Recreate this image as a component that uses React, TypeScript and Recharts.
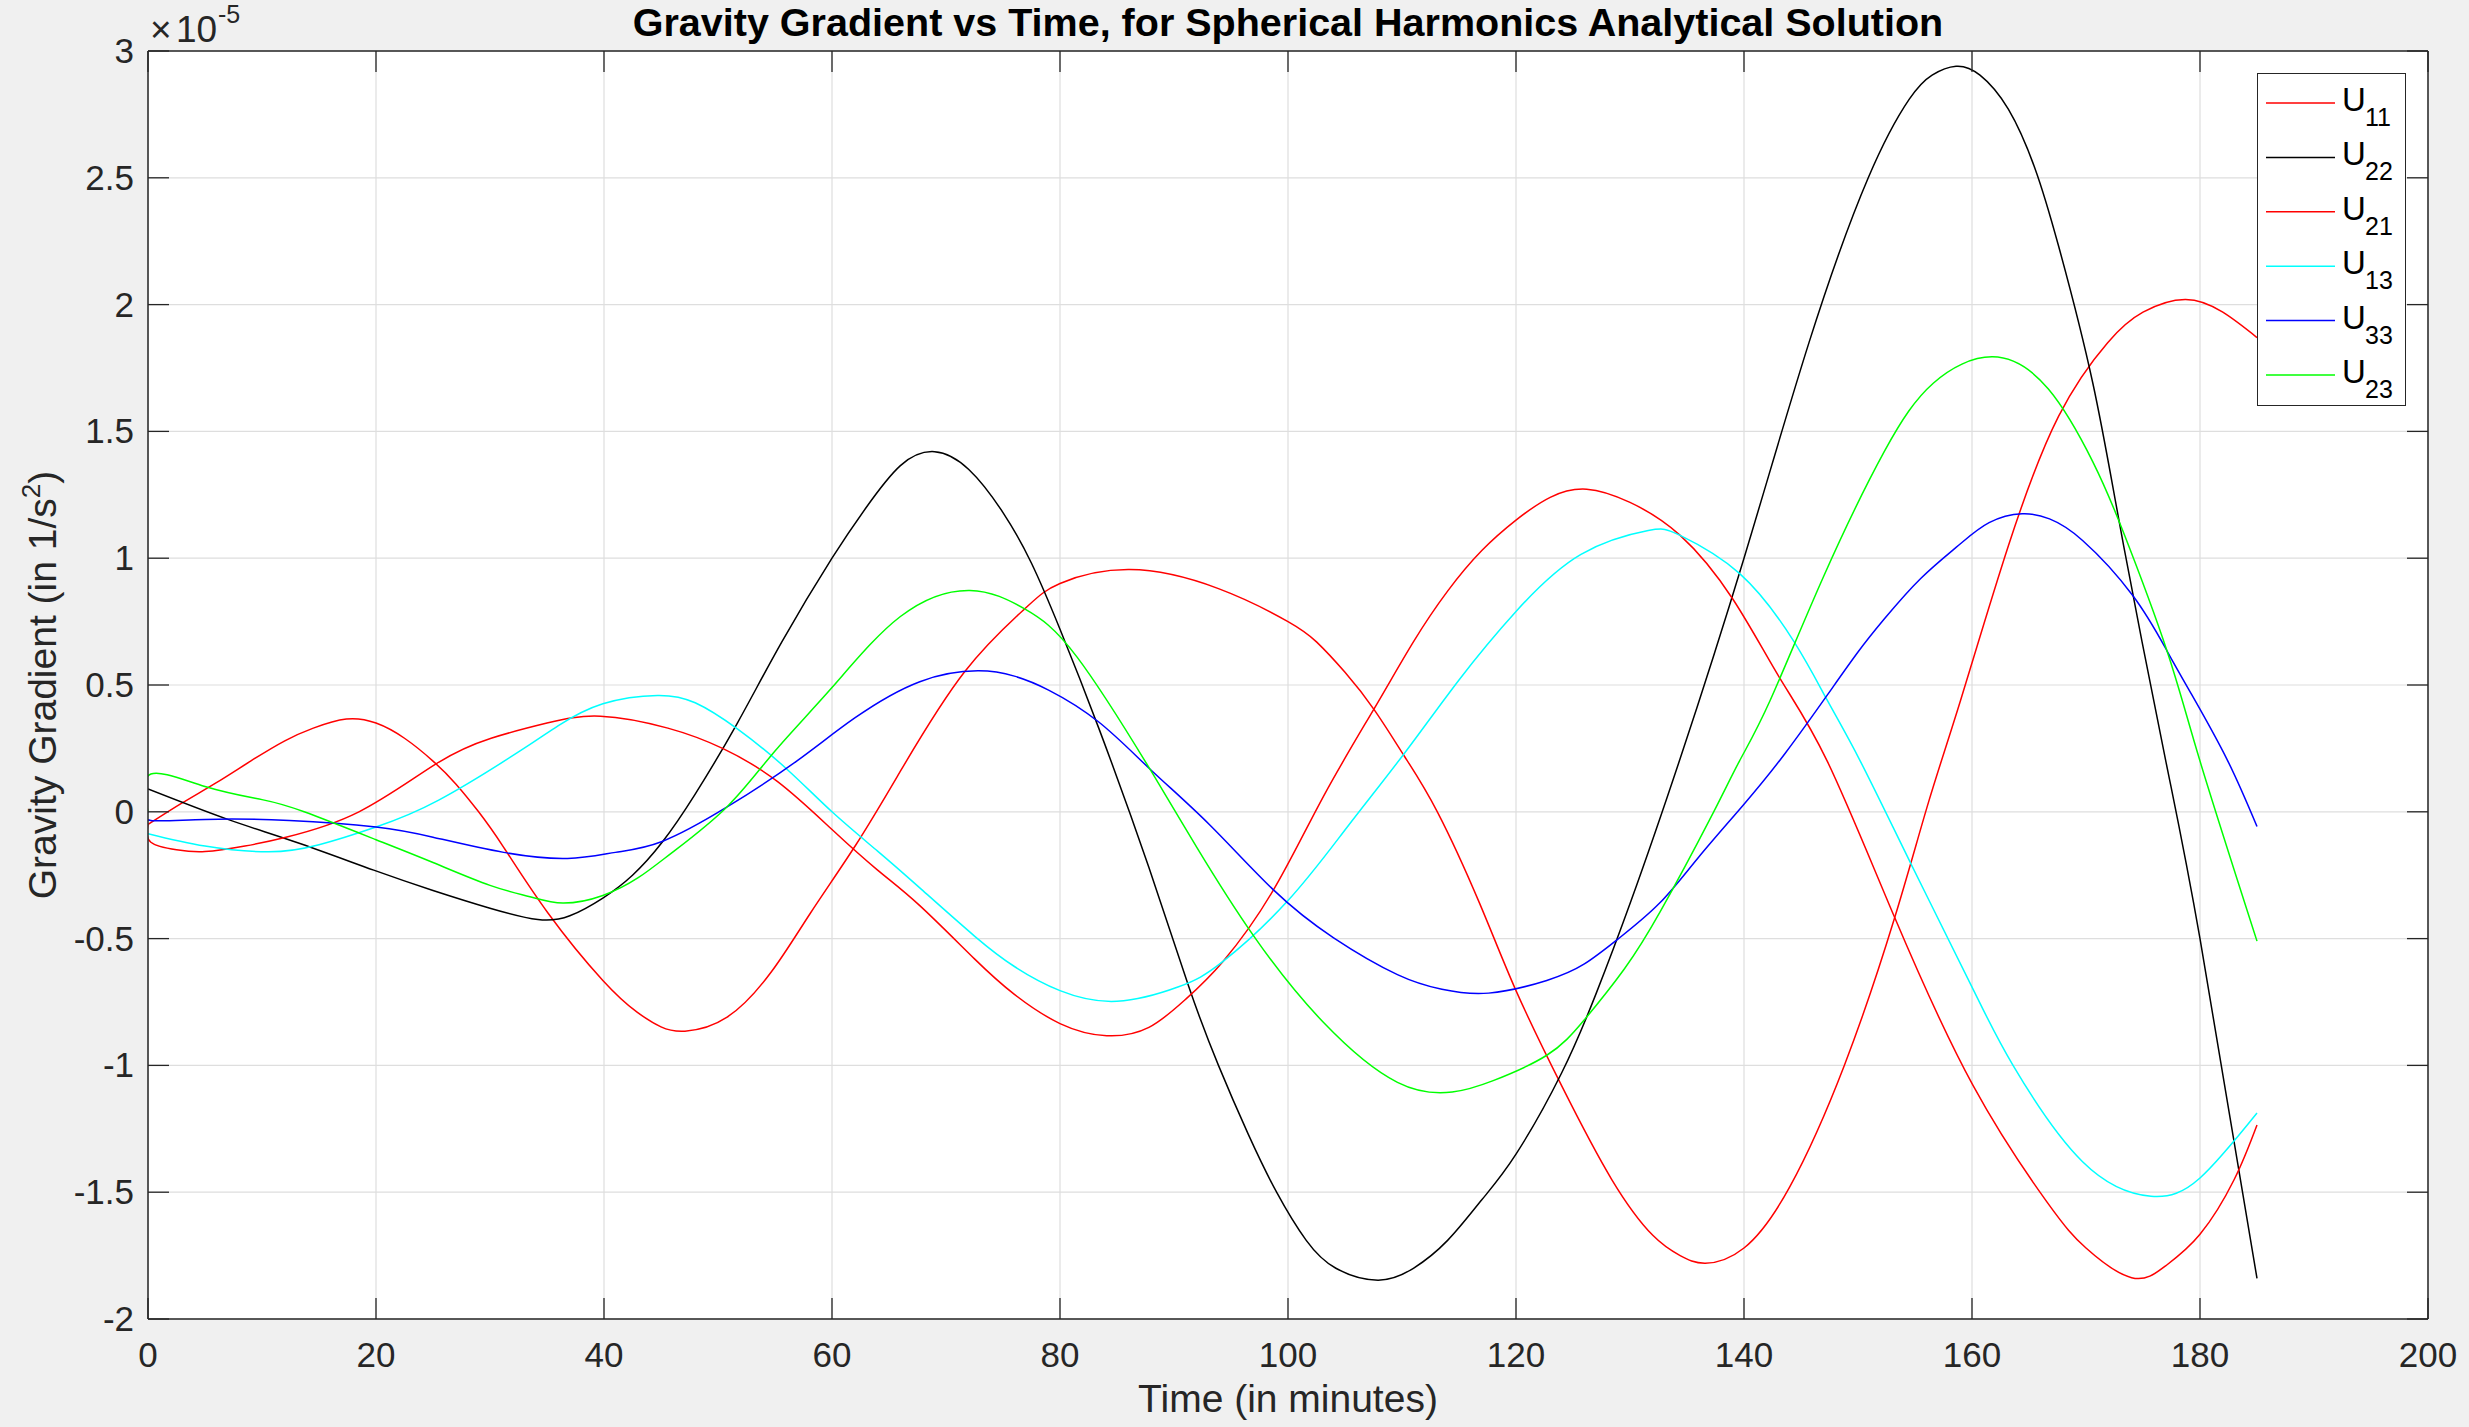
import React from "react";
import {
  LineChart,
  Line,
  XAxis,
  YAxis,
  CartesianGrid,
  ReferenceLine,
  Legend,
} from "recharts";

const W = 2469;
const H = 1427;
const MARGIN = { top: 51, right: 41, bottom: 107, left: 147 };
const AXIS_SIZE = 1;
const PLOT_W = W - MARGIN.left - AXIS_SIZE - MARGIN.right;
const PLOT_H = H - MARGIN.top - MARGIN.bottom - AXIS_SIZE;
const TICK_LEN = 21;

const AXIS = "#262626";
const GRID = "#dedede";
const FONT = '"Liberation Sans", Arial, Helvetica, sans-serif';

const X_TICKS = [0, 20, 40, 60, 80, 100, 120, 140, 160, 180, 200];
const Y_TICKS = [-2, -1.5, -1, -0.5, 0, 0.5, 1, 1.5, 2, 2.5, 3];

// [time in minutes, gradient in 1e-5 1/s^2]
const U11 = [
  [0, -0.05], [3, 0.035], [6, 0.115], [9, 0.2], [12, 0.28], [14.5, 0.33],
  [17.4, 0.366], [20, 0.35], [22.5, 0.29], [25, 0.2], [27, 0.11], [29, 0.0],
  [31.2, -0.14], [35.1, -0.4], [39.9, -0.665], [42.9, -0.79], [45, -0.848],
  [47.1, -0.865], [50.8, -0.81], [54.7, -0.63], [58.1, -0.4], [62.1, -0.13],
  [66, 0.16], [71.6, 0.55], [76.9, 0.8], [80, 0.9], [86.1, 0.955], [93.9, 0.88],
  [100, 0.75], [102.5, 0.67], [105, 0.55], [107.6, 0.4], [110.2, 0.22],
  [113.1, 0.0], [116.8, -0.36], [120, -0.705], [124, -1.08], [128.4, -1.45],
  [132, -1.67], [134.4, -1.75], [136.6, -1.78], [140, -1.72], [144, -1.48],
  [148.8, -1.0], [153.2, -0.42], [156.2, 0.04], [159, 0.44], [163.2, 1.05],
  [167.6, 1.56], [171.9, 1.85], [175, 1.97], [178.7, 2.02], [182, 1.97],
  [185, 1.87],
];

const U22 = [
  [0, 0.09], [7, -0.03], [13, -0.12], [19.8, -0.23], [25, -0.31], [30, -0.38],
  [34.2, -0.425], [37, -0.41], [39.9, -0.34], [42.5, -0.25], [45.1, -0.12],
  [48, 0.07], [51.7, 0.35], [55.6, 0.67], [60, 1.0], [63, 1.2], [66, 1.365],
  [69, 1.42], [72, 1.35], [75, 1.18], [77.5, 0.98], [80, 0.72], [83.4, 0.33],
  [87.8, -0.22], [91.3, -0.69], [93.9, -1.0], [96.5, -1.27], [99, -1.5],
  [101.6, -1.69], [104.2, -1.8], [107.9, -1.847], [111, -1.8], [114, -1.69],
  [117, -1.53], [120, -1.35], [124, -1.03], [127, -0.72], [130.1, -0.35],
  [134.4, 0.21], [140, 1.0], [145.7, 1.85], [150.9, 2.5], [154.5, 2.81],
  [156.5, 2.905], [158.6, 2.94], [160.7, 2.905], [163.2, 2.77], [165.5, 2.54],
  [167.6, 2.23], [170.6, 1.69], [173.3, 1.05], [177, 0.2], [180, -0.5],
  [185, -1.84],
];

const U21 = [
  [0, -0.05], [0.25, -0.12], [2.5, -0.15], [5, -0.157], [8.5, -0.135],
  [12.1, -0.1], [18.5, 0.0], [25.3, 0.19], [30.1, 0.29], [35, 0.35],
  [39.7, 0.377], [45.6, 0.33], [50.4, 0.25], [55.2, 0.12], [60, -0.07],
  [64, -0.23], [67.7, -0.37], [72.5, -0.58], [76, -0.72], [80, -0.835],
  [84.1, -0.883], [87.8, -0.85], [91, -0.74], [94.3, -0.59], [98.7, -0.31],
  [103.1, 0.06], [107.6, 0.41], [111, 0.67], [114, 0.87], [117, 1.03],
  [120, 1.15], [123, 1.24], [126.2, 1.272], [130, 1.22], [134.4, 1.09],
  [139, 0.84], [143.1, 0.53], [147.3, 0.2], [153.2, -0.415], [160.1, -1.08],
  [166.6, -1.54], [170, -1.72], [174, -1.837], [177, -1.79], [180, -1.666],
  [183, -1.45], [185, -1.235],
];

const U13 = [
  [0, -0.086], [5, -0.135], [10.6, -0.158], [15, -0.13], [20, -0.06],
  [25.5, 0.046], [32.5, 0.236], [36, 0.34], [39.9, 0.426], [44.7, 0.459],
  [48, 0.43], [51.7, 0.327], [56, 0.17], [60, 0.0], [64, -0.155], [67.7, -0.3],
  [72.5, -0.49], [76, -0.61], [80, -0.705], [85, -0.747], [90.4, -0.69],
  [94.3, -0.59], [100, -0.35], [105.2, -0.06], [110.2, 0.23], [115, 0.52],
  [120, 0.79], [125.7, 1.015], [131.6, 1.109], [134.4, 1.09], [139.6, 0.94],
  [144.4, 0.67], [147.3, 0.44], [150.2, 0.2], [154.7, -0.21], [160.1, -0.7],
  [163.6, -1.0], [169.7, -1.38], [175.7, -1.516], [180, -1.444], [185, -1.188],
];

const U33 = [
  [0, 0.0], [0.25, -0.034], [5, -0.03], [12.4, -0.034], [20, -0.06],
  [25, -0.1], [31.2, -0.16], [36.8, -0.184], [41, -0.16], [45.1, -0.117],
  [50.8, 0.019], [56.9, 0.2], [62, 0.37], [67.7, 0.513], [72.8, 0.556],
  [76, 0.535], [79, 0.48], [83.4, 0.354], [88, 0.164], [93.1, -0.05],
  [98.7, -0.307], [104, -0.497], [109.6, -0.642], [113.5, -0.7],
  [117.6, -0.715], [122.7, -0.665], [126, -0.6], [129, -0.5], [132.6, -0.36],
  [136, -0.18], [140, 0.03], [143.6, 0.23], [147.3, 0.46], [150, 0.63],
  [152.3, 0.76], [155.5, 0.92], [158.8, 1.05], [161.5, 1.14], [164.4, 1.175],
  [166.8, 1.155], [169.7, 1.07], [174.1, 0.853], [177.1, 0.635], [179.3, 0.46],
  [182.4, 0.204], [185, -0.058],
];

const U23 = [
  [0, 0.0], [0.25, 0.149], [5, 0.1], [10, 0.048], [13.7, 0.0], [20, -0.11],
  [25, -0.2], [30, -0.29], [33.5, -0.335], [36.4, -0.36], [39.9, -0.33],
  [43, -0.26], [46, -0.16], [50.8, 0.02], [55, 0.24], [60, 0.49], [66, 0.77],
  [72.1, 0.873], [76.9, 0.8], [81.5, 0.61], [88, 0.16], [92, -0.14],
  [97, -0.49], [103.1, -0.83], [109.6, -1.067], [114.4, -1.105], [118, -1.06],
  [122.7, -0.96], [126, -0.82], [129.5, -0.62], [132.7, -0.39], [137, -0.03],
  [139.6, 0.2], [142.3, 0.44], [147, 0.93], [152.3, 1.42], [156.6, 1.69],
  [161.8, 1.794], [166.7, 1.667], [170.6, 1.38], [173.3, 1.1], [177.1, 0.635],
  [180, 0.2], [185, -0.51],
];

const SERIES = [
  { key: "u11", sub: "11", color: "#ff0000", points: U11 },
  { key: "u22", sub: "22", color: "#000000", points: U22 },
  { key: "u21", sub: "21", color: "#ff0000", points: U21 },
  { key: "u13", sub: "13", color: "#00ffff", points: U13 },
  { key: "u33", sub: "33", color: "#0000ff", points: U33 },
  { key: "u23", sub: "23", color: "#00ff00", points: U23 },
];

const toRows = (pts: number[][]) => pts.map(([t, v]) => ({ t, v }));

// MATLAB-style ticks: pointing inward, mirrored on the opposite side
const XTick = (props: any) => {
  const { x, y, payload } = props;
  return (
    <g>
      <line x1={x} x2={x} y1={y} y2={y - TICK_LEN} stroke={AXIS} strokeWidth={1.3} />
      <line x1={x} x2={x} y1={y - PLOT_H} y2={y - PLOT_H + TICK_LEN} stroke={AXIS} strokeWidth={1.3} />
      <text x={x} y={y + 48} textAnchor="middle" fontSize={35} fontFamily={FONT} fill={AXIS}>
        {payload.value}
      </text>
    </g>
  );
};

const YTick = (props: any) => {
  const { x, y, payload } = props;
  return (
    <g>
      <line x1={x} x2={x + TICK_LEN} y1={y} y2={y} stroke={AXIS} strokeWidth={1.3} />
      <line x1={x + PLOT_W} x2={x + PLOT_W - TICK_LEN} y1={y} y2={y} stroke={AXIS} strokeWidth={1.3} />
      <text x={x - 14} y={y + 12} textAnchor="end" fontSize={35} fontFamily={FONT} fill={AXIS}>
        {String(payload.value)}
      </text>
    </g>
  );
};

const LEG_W = 149;
const LEG_H = 333;

const LegendBox = () => (
  <div
    style={{
      width: LEG_W,
      height: LEG_H,
      background: "#fff",
      border: `1.5px solid ${AXIS}`,
      boxSizing: "border-box",
    }}
  >
    <svg width={LEG_W - 3} height={LEG_H - 3} style={{ display: "block" }}>
      {SERIES.map((s, i) => {
        const cy = 29 + i * 54.4;
        return (
          <g key={s.key}>
            <line x1={8} x2={77} y1={cy} y2={cy} stroke={s.color} strokeWidth={1.5} />
            <text x={84} y={cy + 8} fontSize={33} fontFamily={FONT} fill="#000">
              U
            </text>
            <text x={107} y={cy + 23} fontSize={25} fontFamily={FONT} fill="#000">
              {s.sub}
            </text>
          </g>
        );
      })}
    </svg>
  </div>
);

export default function App() {
  const cx = MARGIN.left + AXIS_SIZE + PLOT_W / 2;
  const cy = MARGIN.top + PLOT_H / 2;
  return (
    <div style={{ position: "relative", width: W, height: H, background: "#f0f0f0", fontFamily: FONT }}>
      <style>{`body { margin: 0; } .recharts-wrapper *:focus { outline: none; }`}</style>
      <LineChart width={W} height={H} margin={MARGIN}>
        <CartesianGrid stroke={GRID} strokeWidth={1.2} fill="#ffffff" />
        <XAxis
          dataKey="t"
          type="number"
          domain={[0, 200]}
          ticks={X_TICKS}
          interval={0}
          allowDataOverflow
          height={AXIS_SIZE}
          tickSize={0}
          tickMargin={0}
          tickLine={false}
          axisLine={{ stroke: AXIS, strokeWidth: 1.5 }}
          tick={XTick}
        />
        <YAxis
          type="number"
          domain={[-2, 3]}
          ticks={Y_TICKS}
          interval={0}
          allowDataOverflow
          width={AXIS_SIZE}
          tickSize={0}
          tickMargin={0}
          tickLine={false}
          axisLine={{ stroke: AXIS, strokeWidth: 1.5 }}
          tick={YTick}
        />
        <ReferenceLine y={3} stroke={AXIS} strokeWidth={1.5} />
        <ReferenceLine x={200} stroke={AXIS} strokeWidth={1.5} />
        {SERIES.map((s) => (
          <Line
            key={s.key}
            data={toRows(s.points)}
            dataKey="v"
            name={s.sub}
            type="natural"
            stroke={s.color}
            strokeWidth={1.5}
            dot={false}
            activeDot={false}
            isAnimationActive={false}
          />
        ))}
        <Legend
          layout="vertical"
          align="center"
          verticalAlign="middle"
          content={() => <LegendBox />}
          wrapperStyle={{ left: 2257, top: 73, width: LEG_W, height: LEG_H }}
        />
      </LineChart>

      <svg
        width={W}
        height={H}
        style={{ position: "absolute", left: 0, top: 0, pointerEvents: "none" }}
      >
        <text x={cx} y={36} textAnchor="middle" fontSize={39.5} fontWeight="bold" fontFamily={FONT} fill="#000">
          Gravity Gradient vs Time, for Spherical Harmonics Analytical Solution
        </text>
        <text fontFamily={FONT} fill={AXIS}>
          <tspan x={150} y={42} fontSize={37}>×</tspan>
          <tspan x={176} y={42} fontSize={37}>10</tspan>
          <tspan x={218} y={23} fontSize={25}>-5</tspan>
        </text>
        <text x={cx} y={1412} textAnchor="middle" fontSize={39} fontFamily={FONT} fill={AXIS}>
          Time (in minutes)
        </text>
        <text
          transform={`translate(56, ${cy}) rotate(-90)`}
          textAnchor="middle"
          fontSize={39}
          fontFamily={FONT}
          fill={AXIS}
        >
          Gravity Gradient (in 1/s
          <tspan fontSize={26} dy={-16}>2</tspan>
          <tspan dy={16}>)</tspan>
        </text>
      </svg>
    </div>
  );
}
